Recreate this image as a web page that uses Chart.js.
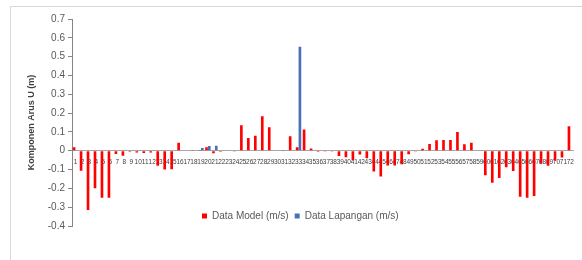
<!DOCTYPE html>
<html>
<head>
<meta charset="utf-8">
<script src="https://cdn.jsdelivr.net/npm/chart.js@4.4.1/dist/chart.umd.min.js"></script>
<style>
    body { margin: 0; background: #ffffff; }
    #wrap { position: relative; width: 582px; height: 260px; overflow: hidden; }
    #frame { position: absolute; left: 10px; top: 6px; width: 600px; height: 300px; border: 1px solid #d9d9d9; }
    #canvas1 { position: absolute; left: 0; top: 0; }
</style>
</head>
<body>
<div id="wrap">
    <div id="frame"></div>
    <canvas id="canvas1" width="582" height="260"></canvas>
</div>
<script>
let labels1 = ['1', '2', '3', '4', '5', '6', '7', '8', '9', '10', '11', '12',
    '13', '14', '15', '16', '17', '18', '19', '20', '21', '22', '23', '24',
    '25', '26', '27', '28', '29', '30', '31', '32', '33', '34', '35', '36',
    '37', '38', '39', '40', '41', '42', '43', '44', '45', '46', '47', '48',
    '49', '50', '51', '52', '53', '54', '55', '56', '57', '58', '59', '60',
    '61', '62', '63', '64', '65', '66', '67', '68', '69', '70', '71', '72'];

// Data Model (m/s)
let dataModel = [0.018, -0.107, -0.315, -0.2, -0.25, -0.25, -0.018, -0.027, -0.006, -0.01, -0.012, -0.01,
    -0.08, -0.1, -0.098, 0.043, 0.003, 0.004, 0.004, 0.018, -0.013, -0.005, -0.003, -0.004,
    0.135, 0.068, 0.08, 0.183, 0.125, 0.003, 0.004, 0.077, 0.018, 0.113, 0.012, -0.006,
    -0.004, -0.004, -0.028, -0.034, -0.05, -0.02, -0.04, -0.11, -0.137, -0.078, -0.078, -0.072,
    -0.019, -0.004, 0.011, 0.036, 0.056, 0.057, 0.057, 0.1, 0.034, 0.043, 0.003, -0.13,
    -0.17, -0.145, -0.088, -0.108, -0.245, -0.25, -0.24, -0.068, -0.08, -0.053, -0.036, 0.13];

// Data Lapangan (m/s)
let dataLapangan = [0.002, 0.002, 0.002, 0.002, 0.003, 0.003, 0.002, 0.002, 0.002, 0.003, 0.002, 0.002,
    0.002, 0.002, 0.002, 0.002, 0.003, 0.003, 0.015, 0.025, 0.027, 0.002, 0.002, 0.002,
    0.002, 0.002, 0.002, 0.003, 0.002, 0.002, 0.002, 0.002, 0.552, 0.002, 0.002, 0.002,
    0.003, 0.003, 0.002, 0.002, 0.002, 0.002, 0.002, 0.002, 0.002, 0.002, 0.002, 0.002,
    0.002, 0.002, 0.002, 0.002, 0.002, 0.002, 0.002, 0.002, 0.003, 0.002, 0.002, 0.002,
    0.003, 0.002, 0.002, 0.002, 0.002, 0.002, 0.002, 0.002, 0.002, 0.002, 0.002, 0.002];

// move the legend up into the plot area, like the original
const legendMover = {
    id: 'legendMover',
    afterLayout(chart) {
        let lg = chart.legend;
        let h = lg.height;
        lg.left = 196;
        lg.right = 196 + 320;
        lg.top = 205;
        lg.bottom = 205 + h;
    }
};

let canvas1 = document.getElementById('canvas1');

let chart1 = new Chart(canvas1, {
    type: 'bar',
    data: {
        labels: labels1,
        datasets: [{
            label: 'Data Model (m/s)',
            data: dataModel,
            backgroundColor: '#ff0000',
            borderWidth: 0,
            barPercentage: 0.95,
            categoryPercentage: 0.8
        }, {
            label: 'Data Lapangan (m/s)',
            data: dataLapangan,
            backgroundColor: '#4a6fb3',
            borderWidth: 0,
            barPercentage: 0.95,
            categoryPercentage: 0.8
        }]
    },
    options: {
        responsive: false,
        animation: false,
        layout: {
            padding: { left: 22, top: 19, right: 5, bottom: 8 }
        },
        plugins: {
            legend: {
                display: true,
                position: 'bottom',
                align: 'start',
                labels: {
                    boxWidth: 5,
                    boxHeight: 5,
                    padding: 6,
                    color: '#595959',
                    font: { family: 'Liberation Sans', size: 10 }
                }
            },
            tooltip: { enabled: false }
        },
        scales: {
            x: {
                position: { y: 0 },
                grid: { display: false, drawTicks: false },
                border: { display: true, color: '#a6a6a6' },
                ticks: {
                    autoSkip: false,
                    maxRotation: 0,
                    minRotation: 0,
                    padding: 8,
                    color: '#404040',
                    font: { family: 'Liberation Sans', size: 6.5 }
                },
                afterFit: function (scale) { scale.height = 0; }
            },
            y: {
                min: -0.4,
                max: 0.7,
                ticks: {
                    stepSize: 0.1,
                    padding: 3,
                    color: '#595959',
                    font: { family: 'Liberation Sans', size: 10 }
                },
                grid: {
                    drawOnChartArea: false,
                    drawTicks: true,
                    tickLength: 4,
                    color: '#868686'
                },
                border: { display: true, color: '#868686' },
                title: {
                    display: true,
                    text: 'Komponen Arus U (m)',
                    color: '#404040',
                    padding: { top: 4, bottom: 4 },
                    font: { family: 'Liberation Sans', size: 9, weight: 'bold' }
                },
                afterFit: function (scale) { scale.width = 50; }
            }
        }
    },
    plugins: [legendMover]
});
</script>
</body>
</html>
